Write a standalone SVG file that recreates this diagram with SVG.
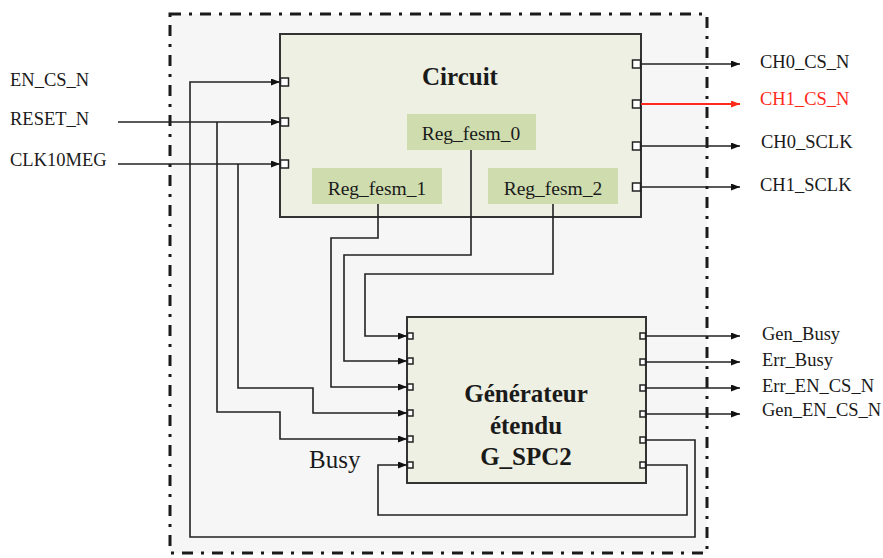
<svg xmlns="http://www.w3.org/2000/svg" width="883" height="558" viewBox="0 0 883 558">
<defs>
<style>
text{font-family:"Liberation Serif","Times New Roman",serif;fill:#1a1a1a}
.lbl{font-size:18.5px}
.reg{font-size:19.5px;text-anchor:middle}
.title{font-size:25px;font-weight:bold;text-anchor:middle}
.box{fill:#eef0e3;stroke:#333;stroke-width:2}
.regbox{fill:#cfdcae}
.port{fill:#fff;stroke:#222;stroke-width:1.5}
.wire{fill:none;stroke:#222;stroke-width:1.6}
.arr{marker-end:url(#ah)}
.red{stroke:#ff2a1a;stroke-width:2;marker-end:url(#ahr)}
</style>
<marker id="ah" markerUnits="userSpaceOnUse" markerWidth="10" markerHeight="8" refX="9" refY="3.5" orient="auto"><path d="M0,0 L9,3.5 L0,7 z" fill="#111"/></marker>
<marker id="ahr" markerUnits="userSpaceOnUse" markerWidth="10" markerHeight="8" refX="9" refY="3.5" orient="auto"><path d="M0,0 L9,3.5 L0,7 z" fill="#ff2a1a"/></marker>
</defs>
<rect width="883" height="558" fill="#fff"/>
<g id="boundary">
<rect x="170" y="14" width="537" height="539" fill="#f6f6f7" stroke="#1a1a1a" stroke-width="3" stroke-dasharray="11 8 3 8"/>
</g>
<g id="circuit">
<rect class="box" x="280" y="34" width="361" height="183"/>
<text class="title" x="460" y="85">Circuit</text>
<rect class="port" x="280.5" y="78" width="8" height="8"/>
<rect class="port" x="280.5" y="118" width="8" height="8"/>
<rect class="port" x="280.5" y="160" width="8" height="8"/>
<rect class="port" x="632.5" y="60" width="8" height="8"/>
<rect class="port" x="632.5" y="100" width="8" height="8"/>
<rect class="port" x="632.5" y="142" width="8" height="8"/>
<rect class="port" x="632.5" y="183" width="8" height="8"/>
</g>
<g id="reg_fesm_0"><rect class="regbox" x="407" y="114" width="129" height="36"/><text class="reg" x="471" y="140">Reg_fesm_0</text></g>
<g id="reg_fesm_1"><rect class="regbox" x="312" y="168" width="130" height="36"/><text class="reg" x="377" y="195">Reg_fesm_1</text></g>
<g id="reg_fesm_2"><rect class="regbox" x="488" y="168" width="130" height="36"/><text class="reg" x="553" y="195">Reg_fesm_2</text></g>
<g id="generateur">
<rect class="box" x="407" y="317" width="239" height="166"/>
<text class="title" x="526" y="402">Générateur</text>
<text class="title" x="526" y="434">étendu</text>
<text class="title" x="526" y="465">G_SPC2</text>
<rect class="port" x="407.5" y="333" width="5.5" height="6"/>
<rect class="port" x="407.5" y="358" width="5.5" height="6"/>
<rect class="port" x="407.5" y="384" width="5.5" height="6"/>
<rect class="port" x="407.5" y="410" width="5.5" height="6"/>
<rect class="port" x="407.5" y="436" width="5.5" height="6"/>
<rect class="port" x="407.5" y="462" width="5.5" height="6"/>
<rect class="port" x="640" y="333" width="5.5" height="6"/>
<rect class="port" x="640" y="359" width="5.5" height="6"/>
<rect class="port" x="640" y="385" width="5.5" height="6"/>
<rect class="port" x="640" y="411" width="5.5" height="6"/>
<rect class="port" x="640" y="437" width="5.5" height="6"/>
<rect class="port" x="640" y="462" width="5.5" height="6"/>
</g>
<g id="labels">
<text class="lbl" x="10" y="86">EN_CS_N</text>
<text class="lbl" x="10" y="125">RESET_N</text>
<text class="lbl" x="10" y="166">CLK10MEG</text>
<text class="lbl" x="760" y="68">CH0_CS_N</text>
<text class="lbl" x="760" y="105" style="fill:#ff2a1a">CH1_CS_N</text>
<text class="lbl" x="761" y="148">CH0_SCLK</text>
<text class="lbl" x="760" y="191">CH1_SCLK</text>
<text class="lbl" x="762" y="340">Gen_Busy</text>
<text class="lbl" x="762" y="366">Err_Busy</text>
<text class="lbl" x="762" y="392">Err_EN_CS_N</text>
<text class="lbl" x="762" y="416">Gen_EN_CS_N</text>
<text x="309" y="468" style="font-size:25px">Busy</text>
</g>
<g id="connectors">
<path class="wire arr" d="M646 440 H695 V537 H190 V82 H280"/>
<path class="wire arr" d="M646 465 H687 V515 H378 V465 H407"/>
<path class="wire arr" d="M118 122 H280"/>
<path class="wire arr" d="M217 122 V412 H280 V439 H407"/>
<path class="wire arr" d="M118 164 H280"/>
<path class="wire arr" d="M238 164 V388 H313 V413 H407"/>
<path class="wire arr" d="M553 204 V274 H365 V336 H407"/>
<path class="wire arr" d="M471 150 V255 H344 V361 H407"/>
<path class="wire arr" d="M378 204 V238 H331 V387 H407"/>
<path class="wire arr" d="M641 64 H740"/>
<path class="wire red" d="M641 104 H740"/>
<path class="wire arr" d="M641 146 H740"/>
<path class="wire arr" d="M641 187 H740"/>
<path class="wire arr" d="M646 336 H740"/>
<path class="wire arr" d="M646 362 H740"/>
<path class="wire arr" d="M646 388 H740"/>
<path class="wire arr" d="M646 414 H740"/>
</g>
</svg>
